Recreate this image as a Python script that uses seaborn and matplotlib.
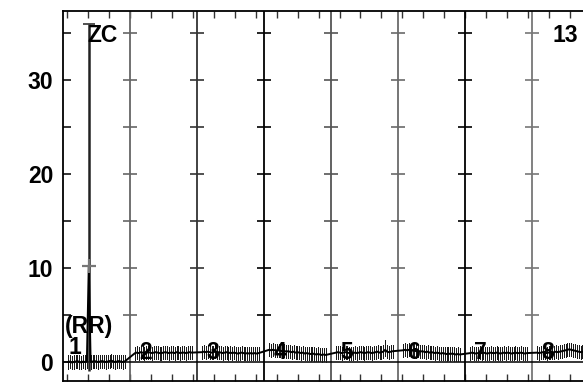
import numpy as np
import pandas as pd
import matplotlib
matplotlib.use("Agg")
import matplotlib.pyplot as plt
import seaborn as sns

# ---------------- data ----------------
PANEL_LABELS = ["1", "2", "3", "4", "5", "6", "7", "8"]
P1 = [0.0, 0.05, -0.05, 0.0, 0.05, 0.1, 0.0, -0.05, 0.05, 0.0, 0.05, 10.2, 0.0, 0.05, 0.1, 0.05,
      0.0, 0.05, 0.1, 0.05, 0.0, 0.05, 0.1, 0.15, 0.05, 0.0, 0.05, 0.1, 0.05, 0.0, 0.05]
P2 = [0.95, 1.0, 0.95, 1.05, 1.0, 0.95, 1.0, 1.05, 1.0, 0.95, 1.0, 1.05, 1.0, 0.95, 0.95, 1.0,
      1.05, 1.0, 0.95, 1.0, 1.0, 0.95, 1.05, 1.0, 0.95, 1.0, 1.0, 0.95, 1.0, 1.05, 1.0]
P3 = [1.05, 1.1, 1.05, 1.1, 1.05, 1.0, 1.05, 1.1, 1.0, 1.05, 1.0, 0.95, 1.0, 1.05, 0.95, 1.0,
      0.95, 1.0, 0.95, 0.9, 0.95, 1.0, 0.95, 0.9, 0.95, 0.9, 0.95, 0.9, 0.95, 0.9, 0.95]
P4 = [1.3, 1.25, 1.3, 1.25, 1.2, 1.25, 1.2, 1.15, 1.2, 1.1, 1.15, 1.1, 1.05, 1.1, 1.0, 1.05,
      1.0, 0.95, 1.0, 0.9, 0.95, 0.9, 0.85, 0.9, 0.85, 0.8, 0.85, 0.8, 0.75, 0.8, 0.75]
P5 = [1.0, 1.05, 1.0, 0.95, 1.0, 1.05, 1.0, 0.95, 0.9, 0.95, 1.0, 0.95, 1.0, 1.05, 1.0, 0.95,
      1.0, 1.05, 1.0, 0.95, 1.0, 1.05, 1.1, 1.0, 1.05, 1.1, 1.3, 1.1, 1.05, 1.1, 1.15]
P6 = [1.25, 1.3, 1.25, 1.3, 1.2, 1.25, 1.2, 1.15, 1.2, 1.1, 1.15, 1.1, 1.05, 1.1, 1.0, 1.05,
      1.0, 0.95, 1.0, 0.95, 0.9, 0.95, 0.9, 0.85, 0.9, 0.85, 0.9, 0.85, 0.8, 0.85, 0.8]
P7 = [0.95, 1.0, 0.95, 0.9, 0.95, 1.0, 0.95, 1.0, 0.95, 0.9, 0.95, 1.0, 0.95, 0.95, 1.0, 0.95,
      0.9, 0.95, 1.0, 0.95, 1.0, 0.95, 0.9, 0.95, 1.0, 0.95, 0.95, 1.0, 0.95, 0.9, 0.95]
P8 = [1.0, 0.95, 1.0, 1.05, 1.0, 0.95, 1.0, 1.05, 1.0, 1.05, 1.1, 1.05, 1.1, 1.15, 1.2, 1.25,
      1.3, 1.35, 1.3, 1.25, 1.2, 1.15, 1.1, 1.05, 1.1, 1.05, 1.0, 1.05, 1.0, 1.05, 1.0]
PANELS = [P1, P2, P3, P4, P5, P6, P7, P8]
ERR_HALF = [0.7, 0.7, 0.7, 0.7, 0.7, 0.7, 0.7, 0.7]
# individual error bars that stand out: (panel, index, low, high)
SPIKE_PANEL = [0, 4]
SPIKE_INDEX = [11, 26]
SPIKE_LOW = [-1.0, 0.6]
SPIKE_HIGH = [36.0, 2.3]
Y_TICKS = [0, 10, 20, 30]
Y_MINOR = [5, 15, 25, 35]
CORNER_LABELS = ["ZC", "13"]

# ---------------- geometry ----------------
PANEL_W = 16.0
X0_OFF = 1.2
STEP = 0.45

rows = []
for p, vals in enumerate(PANELS):
    for k, v in enumerate(vals):
        lo, hi = v - ERR_HALF[p], v + ERR_HALF[p]
        for sp, si, sl, sh in zip(SPIKE_PANEL, SPIKE_INDEX, SPIKE_LOW, SPIKE_HIGH):
            if sp == p and si == k:
                lo, hi = sl, sh
        rows.append(dict(panel=p, x=p * PANEL_W + X0_OFF + STEP * k, value=v, lo=lo, hi=hi))
df = pd.DataFrame(rows)

sns.set_style("white")
plt.rcParams["font.family"] = ["Liberation Sans", "DejaVu Sans"]
plt.rcParams["font.weight"] = "bold"
plt.rcParams["text.color"] = "black"
plt.rcParams["ytick.labelcolor"] = "black"

W, H = 583, 391
fig = plt.figure(figsize=(W / 100, H / 100), dpi=100)
ax = fig.add_axes([63 / W, 10.5 / H, 1 - 63 / W + 0.01, (380.5 - 10.5) / H])

XMAX = (583 - 63) / (66.5 / 16)
ax.set_xlim(0, XMAX + 0.4)
ax.set_ylim(-1.97, 37.45)

# panel boundary lines with crosses
line_cols = ["#666666", "#333333", "#000000", "#555555", "#6a6a6a", "#000000", "#777777"]
for i, c in enumerate(line_cols, start=1):
    xb = i * PANEL_W
    ax.axvline(xb, color=c, lw=1.3, zorder=1)
    ax.plot([xb] * len(Y_MINOR + Y_TICKS[1:]), Y_MINOR + Y_TICKS[1:], ls="none",
            marker="_", markersize=10.5, markeredgewidth=1.2, color=c, zorder=1)

ax.axhline(0, color="black", lw=1.1, zorder=2)

# error bars
regular = df.drop(index=df.index[(df.hi - df.lo) > 2])
big = df[(df.hi - df.lo) > 2]
ax.vlines(regular["x"], regular["lo"], regular["hi"], color="#1a1a1a", lw=0.5,
          antialiased=False, zorder=3)
ax.vlines(big["x"], big["lo"], big["hi"], color="#222222", lw=1.8, zorder=3)
# connecting line
sns.lineplot(data=df, x="x", y="value", color="black", lw=1.4, estimator=None,
             sort=False, ax=ax, zorder=4)
# spike marker
sp = df[(df.panel == 0)].iloc[SPIKE_INDEX[0]]
ax.plot([sp.x], [sp.value], marker="+", markersize=10, mew=1.6, color="#777777", zorder=5)
ax.plot([sp.x], [SPIKE_HIGH[0]], marker="_", markersize=8, mew=1.2, color="#333333", zorder=5)

# text labels
fs = 16.5
for p, lab in enumerate(PANEL_LABELS):
    if p == 0:
        ax.text(2.9, 1.5, lab, ha="center", va="center", fontsize=fs, fontweight="bold", zorder=6)
        ax.text(6.3, 3.8, "(RR)", ha="center", va="center", fontsize=fs, fontweight="bold", zorder=6)
    else:
        ax.text(p * PANEL_W + 3.7, 1.05, lab, ha="center", va="center", fontsize=fs,
                fontweight="bold", zorder=6)
ax.text(9.4, 34.8, CORNER_LABELS[0], ha="center", va="center", fontsize=fs, fontweight="bold")
ax.text(120.0, 34.8, CORNER_LABELS[1], ha="center", va="center", fontsize=fs, fontweight="bold")

# axes styling
ax.set_xlabel("")
ax.set_ylabel("")
ax.set_yticks(Y_TICKS)
ax.set_yticklabels([str(t) for t in Y_TICKS], fontsize=fs, fontweight="bold")
ax.set_yticks(Y_MINOR, minor=True)
ax.set_xticks(np.arange(1, 126, 5))
ax.set_xticklabels([])
ax.tick_params(axis="y", which="both", direction="in", length=5.5, width=1.1, pad=7,
               left=True, right=False, color="black")
ax.tick_params(axis="x", which="both", direction="in", length=5, width=1.0,
               top=True, bottom=True, color="#333333")
for s in ["left", "top", "bottom"]:
    ax.spines[s].set_color("black")
    ax.spines[s].set_linewidth(1.3)
ax.spines["right"].set_visible(False)

fig.savefig("out.png", dpi=100)
